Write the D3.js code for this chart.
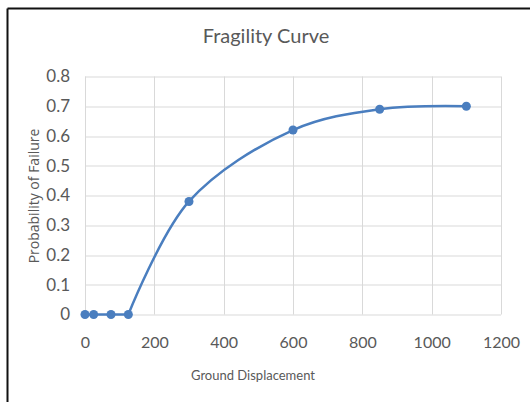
<!DOCTYPE html>
<html>
<head>
<meta charset="utf-8">
<script src="https://cdn.jsdelivr.net/npm/d3@7"></script>
<style>
  body { margin: 0; background: #fff; }
  svg { display: block; }
</style>
</head>
<body>
<div id="wrapper"></div>
<script>
const displacement = [0, 25, 75, 125, 300, 600, 850, 1100]
const probability = [0, 0, 0, 0, 0.38, 0.62, 0.69, 0.70]
const xTicks = [0, 200, 400, 600, 800, 1000, 1200]
const yTicks = [0, 0.1, 0.2, 0.3, 0.4, 0.5, 0.6, 0.7, 0.8]

const dimensions = {
    width: 530,
    height: 402,
    margin: { top: 76.5, right: 29, bottom: 87.5, left: 85 }
}
dimensions.boundedWidth = dimensions.width - dimensions.margin.left - dimensions.margin.right
dimensions.boundedHeight = dimensions.height - dimensions.margin.top - dimensions.margin.bottom

const font = "Lato, 'Open Sans', sans-serif"
const textColor = "#595959"
const gridColor = "#d9d9d9"
const lineColor = "#4a7ebf"

const wrapper = d3.select("#wrapper")
    .append("svg")
    .attr("width", dimensions.width)
    .attr("height", dimensions.height)

// frame of the screenshot (top and left edges only)
wrapper.append("line")
    .attr("x1", 7.5).attr("x2", dimensions.width)
    .attr("y1", 8.5).attr("y2", 8.5)
    .attr("stroke", "#111").attr("stroke-width", 2)
wrapper.append("line")
    .attr("x1", 7.5).attr("x2", 7.5)
    .attr("y1", 8.5).attr("y2", dimensions.height)
    .attr("stroke", "#111").attr("stroke-width", 2)

wrapper.append("text")
    .attr("x", 266)
    .attr("y", 43)
    .attr("text-anchor", "middle")
    .style("font-family", font)
    .style("font-size", "20px")
    .style("fill", textColor)
    .text("Fragility Curve")

const bounds = wrapper.append("g")
    .attr("transform", `translate(${dimensions.margin.left}, ${dimensions.margin.top})`)

const xScale = d3.scaleLinear()
    .domain([0, 1200])
    .range([0, dimensions.boundedWidth])

const yScale = d3.scaleLinear()
    .domain([0, 0.8])
    .range([dimensions.boundedHeight, 0])

// gridlines
bounds.append("g")
    .selectAll("line")
    .data(xTicks)
    .join("line")
    .attr("x1", d => Math.round(xScale(d)) + 0.5)
    .attr("x2", d => Math.round(xScale(d)) + 0.5)
    .attr("y1", 0)
    .attr("y2", dimensions.boundedHeight)
    .attr("stroke", gridColor)

bounds.append("g")
    .selectAll("line")
    .data(yTicks)
    .join("line")
    .attr("x1", 0)
    .attr("x2", dimensions.boundedWidth)
    .attr("y1", d => Math.round(yScale(d)) + 0.5)
    .attr("y2", d => Math.round(yScale(d)) + 0.5)
    .attr("stroke", gridColor)

// axes, text only
const xAxis = d3.axisBottom(xScale)
    .tickValues(xTicks)
    .tickSize(0)
    .tickPadding(22)
    .tickFormat(d3.format("d"))

const yAxis = d3.axisLeft(yScale)
    .tickValues(yTicks)
    .tickSize(0)
    .tickPadding(15)
    .tickFormat(d => d === 0 ? "0" : d3.format(".1f")(d))

const xAxisEl = bounds.append("g")
    .attr("transform", `translate(0, ${dimensions.boundedHeight})`)
    .call(xAxis)
const yAxisEl = bounds.append("g")
    .call(yAxis)

for (const el of [xAxisEl, yAxisEl]) {
    el.select(".domain").remove()
    el.selectAll("text")
        .style("font-family", font)
        .style("font-size", "16px")
        .style("fill", textColor)
}
yAxisEl.selectAll("text").style("font-size", "17px")

wrapper.append("text")
    .attr("x", 253)
    .attr("y", 380)
    .attr("text-anchor", "middle")
    .style("font-family", font)
    .style("font-size", "13px")
    .style("fill", textColor)
    .text("Ground Displacement")

wrapper.append("text")
    .attr("transform", "translate(39, 196) rotate(-90)")
    .attr("text-anchor", "middle")
    .style("font-family", "'Open Sans', sans-serif")
    .style("font-size", "14px")
    .style("fill", textColor)
    .text("Probability of Failure")

// series: flat start drawn straight, rising part smoothed
const points = displacement.map((d, i) => ({ x: d, y: probability[i] }))
const lastFlat = probability.lastIndexOf(0)

const flatLine = d3.line()
    .x(d => xScale(d.x))
    .y(d => yScale(d.y))

const smoothLine = d3.line()
    .x(d => xScale(d.x))
    .y(d => yScale(d.y))
    .curve(d3.curveCatmullRom.alpha(0.5))

bounds.append("path")
    .datum(points.slice(0, lastFlat + 1))
    .attr("d", flatLine)
    .attr("fill", "none")
    .attr("stroke", lineColor)
    .attr("stroke-width", 2.5)

bounds.append("path")
    .datum(points.slice(lastFlat))
    .attr("d", smoothLine)
    .attr("fill", "none")
    .attr("stroke", lineColor)
    .attr("stroke-width", 2.5)

bounds.append("g")
    .selectAll("circle")
    .data(points)
    .join("circle")
    .attr("cx", d => xScale(d.x))
    .attr("cy", d => yScale(d.y))
    .attr("r", 4.5)
    .attr("fill", lineColor)
</script>
</body>
</html>
